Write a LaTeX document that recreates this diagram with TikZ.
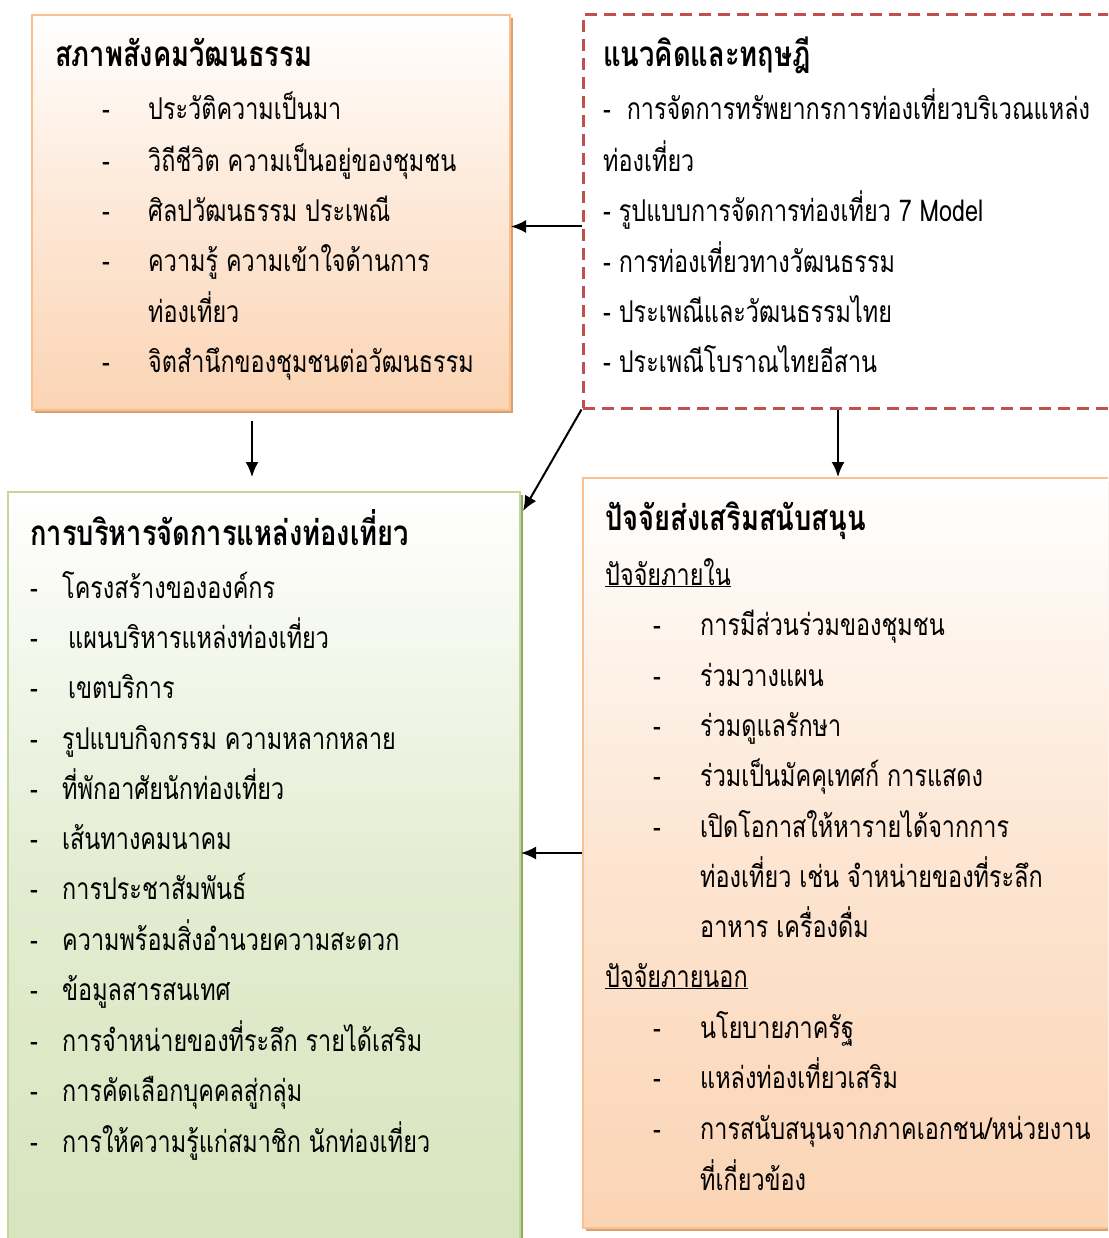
\documentclass[tikz,border=0pt]{standalone}
\usepackage{fontspec}
\newfontfamily\thaifont[Script=Thai,FakeStretch=0.78]{Loma}
\usetikzlibrary{calc,shadows,arrows.meta}
\definecolor{peach}{HTML}{FBD4B4}
\definecolor{peachline}{HTML}{FAC090}
\definecolor{peachshadow}{HTML}{D9A070}
\definecolor{sage}{HTML}{D7E4BD}
\definecolor{sageline}{HTML}{C3D69B}
\definecolor{sageshadow}{HTML}{8FA864}
\definecolor{conceptred}{HTML}{C0504D}
\newcommand{\txtsize}{\fontsize{30}{34}\selectfont}
\newcommand{\headsize}{\fontsize{35}{40}\selectfont}

\begin{document}
\begin{tikzpicture}[x=1pt,y=-1pt,
    box/.style={draw, rectangle, line width=2pt, inner sep=0pt},
    item/.style={anchor=base west, inner sep=0pt, font=\thaifont\txtsize},
    head/.style={item, font=\thaifont\bfseries\headsize},
    arr/.style={-{Latex[length=15pt,width=13pt]}, line width=2pt}]

    \clip (0,0) rectangle (1108,1238);

    % boxes
    \node (culture) at (271,212.5) [box, draw=peachline, minimum width=478, minimum height=395,
      top color=white, bottom color=peach, middle color=peach!55,
      drop shadow={shadow xshift=3pt, shadow yshift=-3pt, fill=peachshadow, opacity=1}] {};
    \node (concept) at (854,211.5) [box, draw=conceptred, line width=3pt, dash pattern=on 12pt off 7pt,
      minimum width=542, minimum height=393] {};
    \node (manage) at (264,881) [box, draw=sageline, minimum width=512, minimum height=778,
      top color=white, bottom color=sage, middle color=sage!70,
      drop shadow={shadow xshift=3pt, shadow yshift=-3pt, fill=sageshadow, opacity=1}] {};
    \node (support) at (854,853) [box, draw=peachline, minimum width=542, minimum height=750,
      top color=white, bottom color=peach, middle color=peach!60,
      drop shadow={shadow xshift=3pt, shadow yshift=-3pt, fill=peachshadow, opacity=1}] {};

    % culture
    \node (cultitle) at (55,67) [head] {สภาพสังคมวัฒนธรรม};
    \node (cul1) at (148,120) [item] {ประวัติความเป็นมา};
    \node (cul2) at (148,172) [item] {วิถีชีวิต ความเป็นอยู่ของชุมชน};
    \node (cul3) at (148,222) [item] {ศิลปวัฒนธรรม ประเพณี};
    \node (cul4) at (148,272) [item] {ความรู้ ความเข้าใจด้านการ};
    \node (cul4b) at (148,322) [item] {ท่องเที่ยว};
    \node (cul5) at (148,372) [item] {จิตสำนึกของชุมชนต่อวัฒนธรรม};
    \foreach \y/\n in {120/1,172/2,222/3,272/4,372/5}
      \node (culdash\n) at (102,\y) [item] {-};

    % concept
    \node (contitle) at (603,67) [head] {แนวคิดและทฤษฎี};
    \node (con1) at (603,120) [item] {-\ \ การจัดการทรัพยากรการท่องเที่ยวบริเวณแหล่ง};
    \node (con1b) at (603,172) [item] {ท่องเที่ยว};
    \node (con2) at (603,222) [item] {- รูปแบบการจัดการท่องเที่ยว 7 Model};
    \node (con3) at (603,273) [item] {- การท่องเที่ยวทางวัฒนธรรม};
    \node (con4) at (603,323) [item] {- ประเพณีและวัฒนธรรมไทย};
    \node (con5) at (603,372) [item] {- ประเพณีโบราณไทยอีสาน};

    % manage
    \node (mantitle) at (30,545) [head] {การบริหารจัดการแหล่งท่องเที่ยว};
    \node (man1) at (62,598) [item] {โครงสร้างขององค์กร};
    \node (man2) at (68,648) [item] {แผนบริหารแหล่งท่องเที่ยว};
    \node (man3) at (68,698) [item] {เขตบริการ};
    \node (man4) at (62,749) [item] {รูปแบบกิจกรรม ความหลากหลาย};
    \node (man5) at (62,799) [item] {ที่พักอาศัยนักท่องเที่ยว};
    \node (man6) at (62,849) [item] {เส้นทางคมนาคม};
    \node (man7) at (62,899) [item] {การประชาสัมพันธ์};
    \node (man8) at (62,950) [item] {ความพร้อมสิ่งอำนวยความสะดวก};
    \node (man9) at (62,1000) [item] {ข้อมูลสารสนเทศ};
    \node (man10) at (62,1051) [item] {การจำหน่ายของที่ระลึก รายได้เสริม};
    \node (man11) at (62,1101) [item] {การคัดเลือกบุคคลสู่กลุ่ม};
    \node (man12) at (62,1152) [item] {การให้ความรู้แก่สมาชิก นักท่องเที่ยว};
    \foreach \y/\n in {598/1,648/2,698/3,749/4,799/5,849/6,899/7,950/8,1000/9,1051/10,1101/11,1152/12}
      \node (mandash\n) at (30,\y) [item] {-};

    % support
    \node (suptitle) at (605,530) [head] {ปัจจัยส่งเสริมสนับสนุน};
    \node (supin) at (605,585) [item] {\underline{ปัจจัยภายใน}};
    \node (sup1) at (700,635) [item] {การมีส่วนร่วมของชุมชน};
    \node (sup2) at (700,686) [item] {ร่วมวางแผน};
    \node (sup3) at (700,736) [item] {ร่วมดูแลรักษา};
    \node (sup4) at (700,786) [item] {ร่วมเป็นมัคคุเทศก์ การแสดง};
    \node (sup5) at (700,837) [item] {เปิดโอกาสให้หารายได้จากการ};
    \node (sup5b) at (700,887) [item] {ท่องเที่ยว เช่น จำหน่ายของที่ระลึก};
    \node (sup5c) at (700,937) [item] {อาหาร เครื่องดื่ม};
    \node (supout) at (605,987) [item] {\underline{ปัจจัยภายนอก}};
    \node (sup6) at (700,1038) [item] {นโยบายภาครัฐ};
    \node (sup7) at (700,1088) [item] {แหล่งท่องเที่ยวเสริม};
    \node (sup8) at (700,1139) [item] {การสนับสนุนจากภาคเอกชน/หน่วยงาน};
    \node (sup8b) at (700,1190) [item] {ที่เกี่ยวข้อง};
    \foreach \y/\n in {635/1,686/2,736/3,786/4,837/5,1038/6,1088/7,1139/8}
      \node (supdash\n) at (653,\y) [item] {-};

    % arrows
    \draw[arr] ([yshift=-15pt]concept.west) -- ([yshift=-15pt]concept.west -| culture.east);
    \draw[arr] ($(culture.south)+(-19,10)$) -- ($(culture.south |- manage.north)+(-19,-14)$);
    \draw[arr] (concept.south west) -- ($(manage.north east)+(2,20)$);
    \draw[arr] ($(concept.south)+(-16,0)$) -- ($(concept.south |- support.north)+(-16,0)$);
    \draw[arr] (support.west) -- (support.west -| manage.east);
\end{tikzpicture}
\end{document}
